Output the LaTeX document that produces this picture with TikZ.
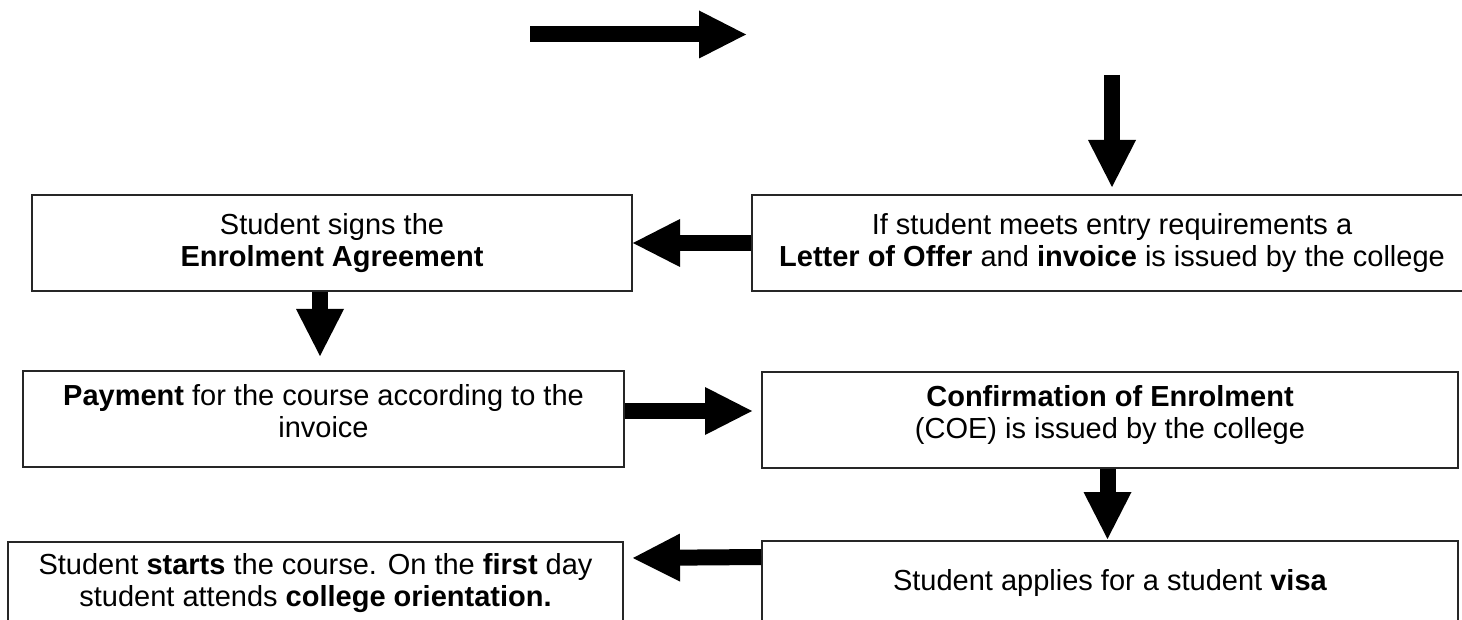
\documentclass[tikz,border=0pt]{standalone}
\usepackage{fontspec}
\setmainfont{Liberation Sans}
\usetikzlibrary{arrows.meta}
\begin{document}
\begin{tikzpicture}[x=1pt,y=-1pt,
  stepbox/.style={draw=black!85, line width=2pt, rectangle, align=center, inner sep=0pt,
    font=\fontsize{29}{32}\selectfont},
  blockarrow/.style={draw=black, line width=16pt,
    -{Triangle[length=47pt,width=48pt,line width=0pt]}}]
\path[use as bounding box] (0,0) rectangle (1462,620);
\clip (0,0) rectangle (1462,620);

\node[stepbox, minimum width=600pt, minimum height=96pt] (b1) at (332,243)
  {Student signs the\\ \textbf{Enrolment Agreement}};
\node[stepbox, minimum width=720pt, minimum height=96pt] (b2) at (1112,243)
  {If student meets entry requirements a\\ \textbf{Letter of Offer} and \textbf{invoice} is issued by the college};
\node[stepbox, minimum width=601pt, minimum height=96pt, text depth=16pt] (b3) at (323.5,419)
  {\textbf{Payment} for the course according to the\\ invoice};
\node[stepbox, minimum width=696pt, minimum height=96pt, text depth=16pt] (b4) at (1110,420)
  {\textbf{Confirmation of Enrolment}\\ (COE) is issued by the college};
\node[stepbox, minimum width=615pt, minimum height=82pt] (b5) at (315.5,583)
  {Student \textbf{starts} the course. On the \textbf{first} day\\ student attends \textbf{college orientation.}};
\node[stepbox, minimum width=696pt, minimum height=84pt] (b6) at (1110,583)
  {Student applies for a student \textbf{visa}};

\coordinate (a1s) at (530,34.5);
\coordinate (a1e) at (746,34.5);
\coordinate (a2s) at (1112,75);

\draw[blockarrow] (a1s) -- (a1e);
\draw[blockarrow] (a2s) -- ([yshift=7pt]b2.north);
\draw[blockarrow] (b2.west) -- (b1.east);
\draw[blockarrow] ([xshift=-12pt]b1.south) -- ([xshift=-3.5pt,yshift=14pt]b3.north);
\draw[blockarrow] ([yshift=8pt]b3.east) -- ([xshift=-9pt,yshift=9pt]b4.west);
\draw[blockarrow] ([xshift=-2.5pt]b4.south) -- ([xshift=-2.5pt,yshift=1pt]b6.north);
\draw[blockarrow] ([yshift=-17pt]b6.north west) -- ([xshift=9pt,yshift=25pt]b5.east);
\end{tikzpicture}
\end{document}
